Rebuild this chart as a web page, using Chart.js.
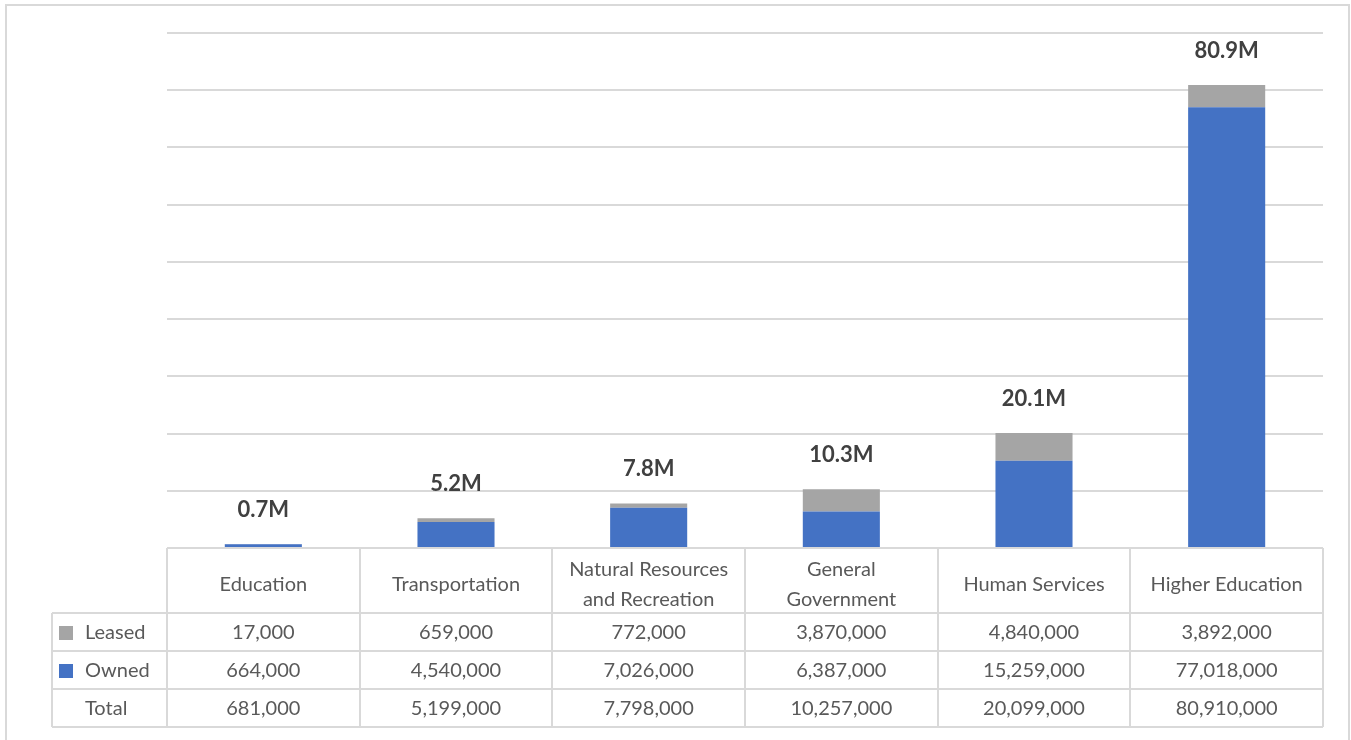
<!DOCTYPE html>
<html>
<head>
<meta charset="utf-8">
<script src="https://cdn.jsdelivr.net/npm/chart.js@4"></script>
<style>
    body { margin: 0; background: #ffffff; }
    #box { position: relative; width: 1351px; height: 740px; }
</style>
</head>
<body>
<div id="box"><canvas id="grafico"></canvas></div>
<script>
const categorias = [
    ["Education"],
    ["Transportation"],
    ["Natural Resources", "and Recreation"],
    ["General", "Government"],
    ["Human Services"],
    ["Higher Education"]
];
const leased = [17000, 659000, 772000, 3870000, 4840000, 3892000];
const owned = [664000, 4540000, 7026000, 6387000, 15259000, 77018000];
const totais = [681000, 5199000, 7798000, 10257000, 20099000, 80910000];

const corLeased = "#a5a5a5";
const corOwned = "#4472c4";
const corLinha = "#d9d9d9";
const corTexto = "#595959";
const fonte = "Lato, 'Noto Sans', sans-serif";

function formatar(n) {
    return n.toLocaleString("en-US");
}

// moldura externa
const moldura = {
    id: "moldura",
    beforeDraw(chart) {
        const ctx = chart.ctx;
        ctx.save();
        ctx.strokeStyle = corLinha;
        ctx.lineWidth = 2;
        ctx.strokeRect(6, 5, 1343, 800);
        ctx.restore();
    }
};

// rotulos de total acima das barras
const rotulos = {
    id: "rotulos",
    afterDatasetsDraw(chart) {
        const ctx = chart.ctx;
        const x = chart.scales.x;
        const y = chart.scales.y;
        ctx.save();
        ctx.font = "bold 22px " + fonte;
        ctx.fillStyle = "#404040";
        ctx.textAlign = "center";
        ctx.textBaseline = "middle";
        totais.forEach((t, i) => {
            const px = x.getPixelForValue(i);
            const py = y.getPixelForValue(t) - 34;
            ctx.fillText((t / 1e6).toFixed(1) + "M", px, py);
        });
        ctx.restore();
    }
};

// tabela de dados abaixo do grafico
const tabela = {
    id: "tabela",
    afterDraw(chart) {
        const ctx = chart.ctx;
        const area = chart.chartArea;
        const x = chart.scales.x;
        const n = categorias.length;
        const larg = (area.right - area.left) / n;
        const topo = area.bottom;
        const cab = topo + 65;
        const alt = 38;
        const esq = 52;
        const linhas = [
            { nome: "Leased", cor: corLeased, dados: leased },
            { nome: "Owned", cor: corOwned, dados: owned },
            { nome: "Total", cor: null, dados: totais }
        ];

        ctx.save();
        ctx.strokeStyle = corLinha;
        ctx.lineWidth = 2;
        ctx.beginPath();
        for (let i = 0; i <= n; i++) {
            const lx = Math.round(area.left + i * larg);
            ctx.moveTo(lx, topo);
            ctx.lineTo(lx, cab + alt * 3);
        }
        ctx.moveTo(esq, cab);
        ctx.lineTo(esq, cab + alt * 3);
        for (let r = 0; r <= 3; r++) {
            ctx.moveTo(esq, cab + alt * r);
            ctx.lineTo(area.right, cab + alt * r);
        }
        ctx.stroke();

        ctx.fillStyle = corTexto;
        ctx.font = "20px " + fonte;
        ctx.textAlign = "center";
        ctx.textBaseline = "middle";
        categorias.forEach((c, i) => {
            const px = x.getPixelForValue(i);
            const meio = topo + 37;
            c.forEach((t, k) => {
                ctx.fillText(t, px, meio + (k - (c.length - 1) / 2) * 30);
            });
        });

        linhas.forEach((l, r) => {
            const cy = cab + alt * r + alt / 2 + 1;
            ctx.textAlign = "center";
            ctx.fillStyle = corTexto;
            l.dados.forEach((v, i) => {
                ctx.fillText(formatar(v), x.getPixelForValue(i), cy);
            });
            if (l.cor) {
                ctx.fillStyle = l.cor;
                ctx.fillRect(59, cy - 7, 14, 14);
            }
            ctx.fillStyle = corTexto;
            ctx.textAlign = "left";
            ctx.fillText(l.nome, 85, cy);
        });
        ctx.restore();
    }
};

function criarGrafico() {
    const ctx = document.getElementById("grafico").getContext("2d");
    new Chart(ctx, {
        type: "bar",
        data: {
            labels: categorias.map(c => c.join(" ")),
            datasets: [
                {
                    label: "Owned",
                    data: owned,
                    backgroundColor: corOwned,
                    barPercentage: 0.4,
                    categoryPercentage: 1
                },
                {
                    label: "Leased",
                    data: leased,
                    backgroundColor: corLeased,
                    barPercentage: 0.4,
                    categoryPercentage: 1
                }
            ]
        },
        options: {
            responsive: true,
            maintainAspectRatio: false,
            animation: false,
            layout: { padding: { left: 167, right: 28, top: 33, bottom: 192 } },
            plugins: {
                legend: { display: false },
                tooltip: { enabled: false }
            },
            scales: {
                x: { stacked: true, display: false },
                y: {
                    stacked: true,
                    min: 0,
                    max: 90000000,
                    ticks: { display: false, stepSize: 10000000 },
                    border: { display: false },
                    grid: { color: corLinha, lineWidth: 2, drawTicks: false }
                }
            }
        },
        plugins: [moldura, rotulos, tabela]
    });
}

criarGrafico();
</script>
</body>
</html>
